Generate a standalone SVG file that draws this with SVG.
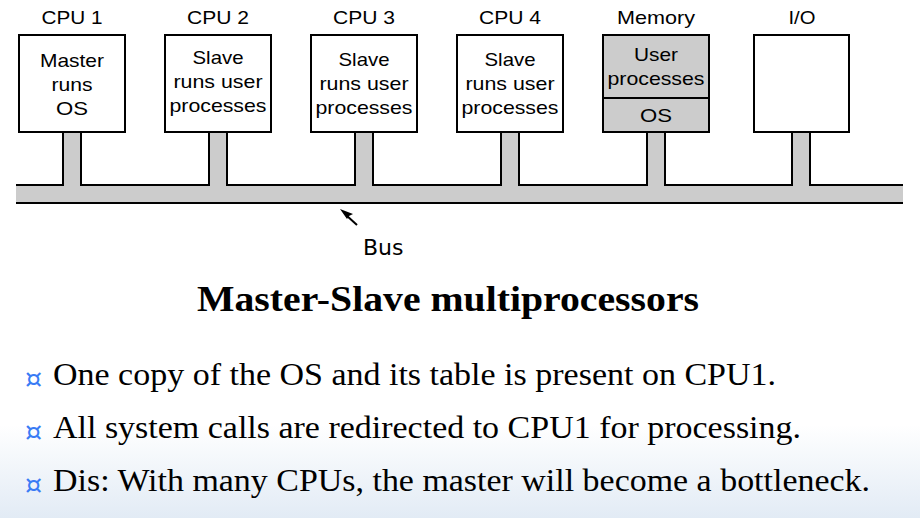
<svg xmlns="http://www.w3.org/2000/svg" width="920" height="518" viewBox="0 0 920 518">
<defs>
<linearGradient id="bg" x1="0" y1="0" x2="0" y2="1">
<stop offset="0" stop-color="#ffffff"/>
<stop offset="0.82" stop-color="#ffffff"/>
<stop offset="1" stop-color="#e2ebf5"/>
</linearGradient>
<style>
.box{fill:#ffffff;stroke:#000;stroke-width:2}
.mem{fill:#cccccc;stroke:#000;stroke-width:2}
.lbl{font-family:"Liberation Sans",Arial,sans-serif;font-size:18.5px;fill:#000;text-anchor:middle}
.bus{fill:#cccccc;stroke:none}
.edge{fill:none;stroke:#000;stroke-width:2}
.title{font-family:"Liberation Serif","Times New Roman",serif;font-weight:bold;font-size:36px;fill:#000;text-anchor:middle}
.bt{font-family:"Liberation Serif","Times New Roman",serif;font-size:31px;fill:#000}
.bul{font-family:"DejaVu Sans",sans-serif;font-size:27px;fill:#3a7cf5}
.buslbl{font-family:"DejaVu Sans",Verdana,sans-serif;font-size:22px;fill:#000}
</style>
</defs>
<rect x="0" y="0" width="920" height="518" fill="url(#bg)"/>

<g id="connectors">
<path class="bus" d="M16,185 H63 V132 H81 V185 H209 V132 H227 V185 H355 V132 H373 V185 H501 V132 H519 V185 H647 V132 H665 V185 H792 V132 H810 V185 H903 V203 H16 Z"/>
<path class="edge" d="M16,185 H63 V132 M81,132 V185 H209 V132 M227,132 V185 H355 V132 M373,132 V185 H501 V132 M519,132 V185 H647 V132 M665,132 V185 H792 V132 M810,132 V185 H903"/>
<path class="edge" d="M16,203 H903"/>
<g id="bus-label">
<line x1="357" y1="225" x2="346" y2="215" stroke="#000" stroke-width="2"/>
<polygon points="340,209 353,214 349,216 347,219" fill="#000"/>
<text class="buslbl" x="363" y="255">Bus</text>
</g>
</g>

<g id="cpu1">
<text class="lbl" x="72" y="24" textLength="61" lengthAdjust="spacingAndGlyphs">CPU 1</text>
<rect class="box" x="19" y="35" width="106" height="97"/>
<text class="lbl" x="72" y="67" textLength="64" lengthAdjust="spacingAndGlyphs">Master</text>
<text class="lbl" x="72" y="91" textLength="41" lengthAdjust="spacingAndGlyphs">runs</text>
<text class="lbl" x="72" y="115" textLength="32" lengthAdjust="spacingAndGlyphs">OS</text>
</g>

<g id="cpu2">
<text class="lbl" x="218" y="24" textLength="62" lengthAdjust="spacingAndGlyphs">CPU 2</text>
<rect class="box" x="165" y="35" width="106" height="97"/>
<text class="lbl" x="218" y="64" textLength="51" lengthAdjust="spacingAndGlyphs">Slave</text>
<text class="lbl" x="218" y="88" textLength="89" lengthAdjust="spacingAndGlyphs">runs user</text>
<text class="lbl" x="218" y="112" textLength="97" lengthAdjust="spacingAndGlyphs">processes</text>
</g>

<g id="cpu3">
<text class="lbl" x="364" y="24" textLength="62" lengthAdjust="spacingAndGlyphs">CPU 3</text>
<rect class="box" x="311" y="35" width="106" height="97"/>
<text class="lbl" x="364" y="66" textLength="51" lengthAdjust="spacingAndGlyphs">Slave</text>
<text class="lbl" x="364" y="90" textLength="89" lengthAdjust="spacingAndGlyphs">runs user</text>
<text class="lbl" x="364" y="114" textLength="97" lengthAdjust="spacingAndGlyphs">processes</text>
</g>

<g id="cpu4">
<text class="lbl" x="510" y="24" textLength="62" lengthAdjust="spacingAndGlyphs">CPU 4</text>
<rect class="box" x="457" y="35" width="106" height="97"/>
<text class="lbl" x="510" y="66" textLength="51" lengthAdjust="spacingAndGlyphs">Slave</text>
<text class="lbl" x="510" y="90" textLength="89" lengthAdjust="spacingAndGlyphs">runs user</text>
<text class="lbl" x="510" y="114" textLength="97" lengthAdjust="spacingAndGlyphs">processes</text>
</g>

<g id="memory">
<text class="lbl" x="656" y="24" textLength="78" lengthAdjust="spacingAndGlyphs">Memory</text>
<rect class="mem" x="603" y="35" width="106" height="97"/>
<line x1="603" y1="98" x2="709" y2="98" stroke="#000" stroke-width="2"/>
<text class="lbl" x="656" y="61" textLength="44" lengthAdjust="spacingAndGlyphs">User</text>
<text class="lbl" x="656" y="85" textLength="97" lengthAdjust="spacingAndGlyphs">processes</text>
<text class="lbl" x="656" y="122" textLength="32" lengthAdjust="spacingAndGlyphs">OS</text>
</g>

<g id="io">
<text class="lbl" x="802" y="24" textLength="27" lengthAdjust="spacingAndGlyphs">I/O</text>
<rect class="box" x="754" y="35" width="95" height="97"/>
</g>

<g id="title">
<text class="title" x="448" y="311" textLength="502" lengthAdjust="spacingAndGlyphs">Master-Slave multiprocessors</text>
</g>

<g id="bullets">
<text class="bul" x="25" y="388">¤</text>
<text class="bt" x="53" y="385" textLength="723" lengthAdjust="spacingAndGlyphs">One copy of the OS and its table is present on CPU1.</text>
<text class="bul" x="25" y="441">¤</text>
<text class="bt" x="53" y="438" textLength="748" lengthAdjust="spacingAndGlyphs">All system calls are redirected to CPU1 for processing.</text>
<text class="bul" x="25" y="494">¤</text>
<text class="bt" x="53" y="491" textLength="817" lengthAdjust="spacingAndGlyphs">Dis: With many CPUs, the master will become a bottleneck.</text>
</g>
</svg>
